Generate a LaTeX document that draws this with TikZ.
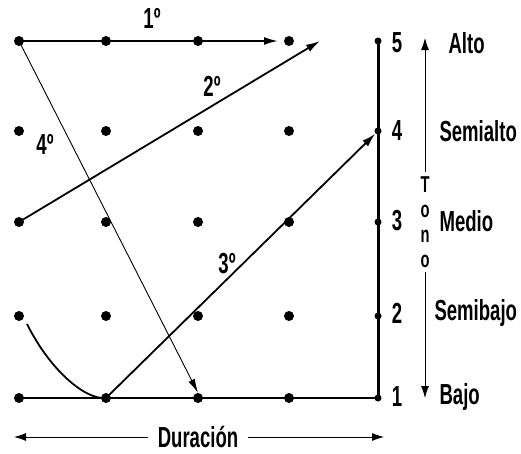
\documentclass[tikz,border=0pt]{standalone}
\usepackage{fontspec}
\setmainfont{Liberation Sans}[FakeStretch=0.64]
\usetikzlibrary{arrows.meta}

\begin{document}
\begin{tikzpicture}[x=1pt, y=-1pt,
    dot/.style={circle, fill=black, inner sep=0pt, minimum size=10pt},
    axisdot/.style={circle, fill=black, inner sep=0pt, minimum size=7pt},
    lbl/.style={font=\fontsize{29}{31}\selectfont\bfseries},
    level/.style={font=\fontsize{29}{31}\selectfont\bfseries, anchor=west},
    move/.style={-{Latex[length=14pt, width=8pt]}, line width=1.8pt},
    thinmove/.style={-{Latex[length=14pt, width=7pt]}, line width=0.9pt},
    scale arrow/.style={{Latex[length=12pt, width=8pt]}-{Latex[length=12pt, width=8pt]}, line width=0.8pt},
]
\useasboundingbox (0,0) rectangle (521,453);

% Grid of dots (columns = duration, rows = tone)
\foreach \c/\x in {1/19, 2/106, 3/198, 4/289}
  \foreach \r/\y in {1/398, 2/316, 3/222, 4/131, 5/41}
    \node[dot] (d\c\r) at (\x,\y) {};

% Tone axis
\node[axisdot] (a1) at (378,398) {};
\node[axisdot] (a2) at (378,316) {};
\node[axisdot] (a3) at (378,222) {};
\node[axisdot] (a4) at (378,131) {};
\node[axisdot] (a5) at (378,41) {};
\draw[line width=3pt] (a1.center) -- (a5.center);
\draw[line width=1.5pt] (d11.center) -- (a1.center);

\node[lbl] (n1) at (397,397) {1};
\node[lbl] (n2) at (397,313) {2};
\node[lbl] (n3) at (397,221) {3};
\node[lbl] (n4) at (397,131) {4};
\node[lbl] (n5) at (397,43) {5};

\node[level] (bajo) at (436,397) {Bajo};
\node[level] (sbajo) at (431,313) {Semibajo};
\node[level] (medio) at (436,221) {Medio};
\node[level] (salto) at (436,131) {Semialto};
\node[level] (alto) at (445,43) {Alto};

% Tono scale arrow
\coordinate (tbot) at (425,398);
\coordinate (ttop) at (425,38);
\draw[scale arrow] (tbot) -- (ttop);
\node[fill=white, font=\fontsize{23}{25}\selectfont\bfseries, align=center, inner xsep=3pt, inner ysep=4pt] (tono) at (425,222) {T\\o\\n\\o};

% Duracion scale arrow
\coordinate (dleft) at (14,437);
\coordinate (dright) at (384,437);
\draw[scale arrow] (dleft) -- (dright);
\node[lbl, fill=white, inner xsep=10pt] (dur) at (198,437) {Duración};

% Moves
\coordinate (e1) at (278,41);
\draw[move] (d15.center) -- (e1);
\node[lbl] (m1) at (152,18) {1º};

\coordinate (e2) at (320,41);
\draw[move] (d13.center) -- (e2);
\node[lbl] (m2) at (212,86) {2º};

\coordinate (s3) at (27,324);
\draw[move] (s3) .. controls (50,370) and (85,400) .. (d21.center) -- (a4.south west);
\node[lbl] (m3) at (227,264) {3º};

\draw[thinmove] (d15.center) -- (d31.north);
\node[lbl] (m4) at (45,144) {4º};

\end{tikzpicture}
\end{document}
